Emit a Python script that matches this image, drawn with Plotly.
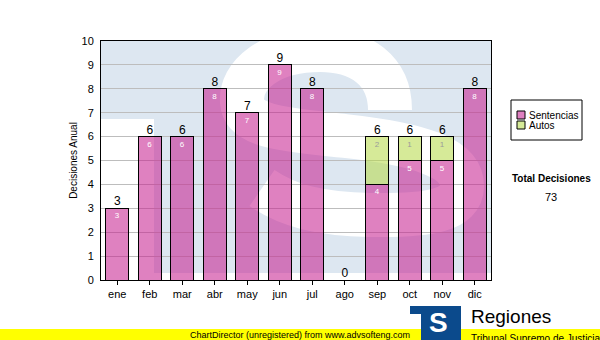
import plotly.graph_objects as go

# ---- data ----
months = ["ene", "feb", "mar", "abr", "may", "jun", "jul", "ago", "sep", "oct", "nov", "dic"]
sentencias = [3, 6, 6, 8, 7, 9, 8, 0, 4, 5, 5, 8]
autos = [0, 0, 0, 0, 0, 0, 0, 0, 2, 1, 1, 0]
series_names = ["Sentencias", "Autos"]
y_title = "Decisiones Anual"
total_title = "Total Decisiones"
y_ticks = list(range(0, 11))

# ---- styling ----
FONT = "Liberation Sans, Arial, sans-serif"
PINK = "rgba(198,30,143,0.56)"
GREEN = "rgba(181,217,71,0.56)"
PINK_SOLID = "#DF80C0"
GREEN_SOLID = "#D6EA98"
WM_BLUE = "#DDE7F1"

W, H = 600, 340
ML, MR, MT, MB = 101, 109, 41, 60
PW = W - ML - MR
PH = H - MT - MB

xs = list(range(len(months)))
totals = [s + a for s, a in zip(sentencias, autos)]
grand_total = sum(totals)


def PX(px):
    return (px - ML) / PW


def PY(py):
    return (H - MB - py) / PH


# pixel -> axis coords (for clipped watermark)
def AX(px):
    return (px - ML) / (PW / len(months)) - 0.5


def AY(py):
    return (H - MB - py) / (PH / 10)


def path_from(cmds):
    out = []
    for c in cmds:
        if isinstance(c, str):
            out.append(c)
        else:
            out.append(f"{AX(c[0]):.4f},{AY(c[1]):.4f}")
    return " ".join(out)


fig = go.Figure()

fig.add_trace(go.Bar(
    x=xs, y=[v if v else None for v in sentencias], name=series_names[0],
    marker=dict(color=PINK, line=dict(color="black", width=1)),
    text=[str(v) if v else "" for v in sentencias],
    textposition="inside", insidetextanchor="end", textangle=0,
    textfont=dict(family=FONT, size=8, color="white"),
    hoverinfo="skip", showlegend=False,
))
fig.add_trace(go.Bar(
    x=xs, y=[v if v else None for v in autos], name=series_names[1],
    marker=dict(color=GREEN, line=dict(color="black", width=1)),
    text=[str(v) if v else "" for v in autos],
    textposition="inside", insidetextanchor="end", textangle=0,
    textfont=dict(family=FONT, size=8, color="#9A9A9A"),
    hoverinfo="skip", showlegend=False,
))
fig.add_trace(go.Scatter(
    x=xs, y=totals, mode="text", text=[str(t) for t in totals],
    textposition="top center", textfont=dict(family=FONT, size=12, color="black"),
    hoverinfo="skip", showlegend=False, cliponaxis=False,
))

shapes = []
# watermark: light blue box with white S
box = ["M", (101, 30), "L", (491, 30), "L", (491, 273), "L", (154, 273),
       "L", (154, 119), "L", (101, 119), "Z"]
shapes.append(dict(type="path", xref="x", yref="y", path=path_from(box),
                   fillcolor=WM_BLUE, line=dict(width=0), layer="below"))
s_path = ["M", (390, 110),
          "C", (390, 70), (360, 50), (320, 50),
          "C", (270, 50), (240, 75), (242, 102),
          "C", (244, 128), (290, 130), (345, 136),
          "C", (420, 144), (462, 158), (462, 186),
          "C", (462, 210), (430, 216), (370, 215),
          "C", (320, 214), (288, 206), (262, 188)]
shapes.append(dict(type="path", xref="x", yref="y", path=path_from(s_path),
                   line=dict(color="white", width=44), layer="below"))

# legend box
shapes.append(dict(type="rect", xref="paper", yref="paper",
                   x0=PX(511), x1=PX(582), y0=PY(100), y1=PY(140),
                   line=dict(color="black", width=1), fillcolor="white"))
sw = [(PINK_SOLID, 111), (GREEN_SOLID, 121)]
for col, top in sw:
    shapes.append(dict(type="rect", xref="paper", yref="paper",
                       x0=PX(517), x1=PX(525), y0=PY(top), y1=PY(top + 8),
                       line=dict(color="black", width=1), fillcolor=col))

# bottom yellow band
shapes.append(dict(type="rect", xref="paper", yref="paper",
                   x0=PX(0), x1=PX(600), y0=PY(329), y1=PY(342),
                   line=dict(width=0), fillcolor="#FFFF00", layer="above"))
# logo
logo = f"M {PX(410)},{PY(306)} L {PX(461)},{PY(306)} L {PX(461)},{PY(342)} L {PX(421)},{PY(342)} L {PX(421)},{PY(314)} L {PX(410)},{PY(314)} Z"
shapes.append(dict(type="path", xref="paper", yref="paper", path=logo,
                   fillcolor="#0B4A8C", line=dict(width=0), layer="above"))

annotations = []
for (col, top), name in zip(sw, series_names):
    annotations.append(dict(xref="paper", yref="paper", x=PX(527), y=PY(top + 4),
                            xanchor="left", yanchor="middle", showarrow=False,
                            text=name, font=dict(family=FONT, size=10, color="black")))
annotations.append(dict(xref="paper", yref="paper", x=PX(551), y=PY(178),
                        xanchor="center", yanchor="middle", showarrow=False,
                        text=f"<b>{total_title}</b>",
                        font=dict(family=FONT, size=10, color="black")))
annotations.append(dict(xref="paper", yref="paper", x=PX(551), y=PY(197),
                        xanchor="center", yanchor="middle", showarrow=False,
                        text=str(grand_total),
                        font=dict(family=FONT, size=11, color="black")))
annotations.append(dict(xref="paper", yref="paper", x=PX(300), y=PY(334.5),
                        xanchor="center", yanchor="middle", showarrow=False,
                        text="ChartDirector (unregistered) from www.advsofteng.com",
                        font=dict(family="Liberation Sans Narrow, Liberation Sans, Arial", size=9, color="black")))
annotations.append(dict(xref="paper", yref="paper", x=PX(438), y=PY(322),
                        xanchor="center", yanchor="middle", showarrow=False,
                        text="<b>S</b>",
                        font=dict(family=FONT, size=28, color="white")))
annotations.append(dict(xref="paper", yref="paper", x=PX(469), y=PY(316),
                        xanchor="left", yanchor="middle", showarrow=False,
                        text="Regiones",
                        font=dict(family=FONT, size=19, color="black")))
annotations.append(dict(xref="paper", yref="paper", x=PX(469), y=PY(331),
                        xanchor="left", yanchor="top", showarrow=False,
                        text="Tribunal Supremo de Justicia",
                        font=dict(family=FONT, size=10, color="black")))

fig.update_layout(
    width=W, height=H,
    margin=dict(l=ML, r=MR, t=MT, b=MB, pad=0),
    paper_bgcolor="white", plot_bgcolor="white",
    barmode="stack", bargap=0.28,
    font=dict(family=FONT, size=11, color="black"),
    shapes=shapes, annotations=annotations,
    showlegend=False,
    xaxis=dict(range=[-0.5, len(months) - 0.5], tickvals=xs, ticktext=months,
               showgrid=False, zeroline=False, showline=True, linecolor="black",
               linewidth=1, mirror=True, ticks="outside", ticklen=4,
               tickcolor="black", tickfont=dict(family=FONT, size=11, color="black")),
    yaxis=dict(range=[0, 10], tickvals=y_ticks, showgrid=True, gridcolor="#BDBDBD",
               gridwidth=1, zeroline=False, showline=True, linecolor="black",
               linewidth=1, mirror=True, ticks="", ticklabelstandoff=4,
               tickfont=dict(family=FONT, size=11, color="black"),
               title=dict(text=y_title, standoff=2,
                          font=dict(family=FONT, size=10, color="black"))),
)

fig.write_html("out.html")
